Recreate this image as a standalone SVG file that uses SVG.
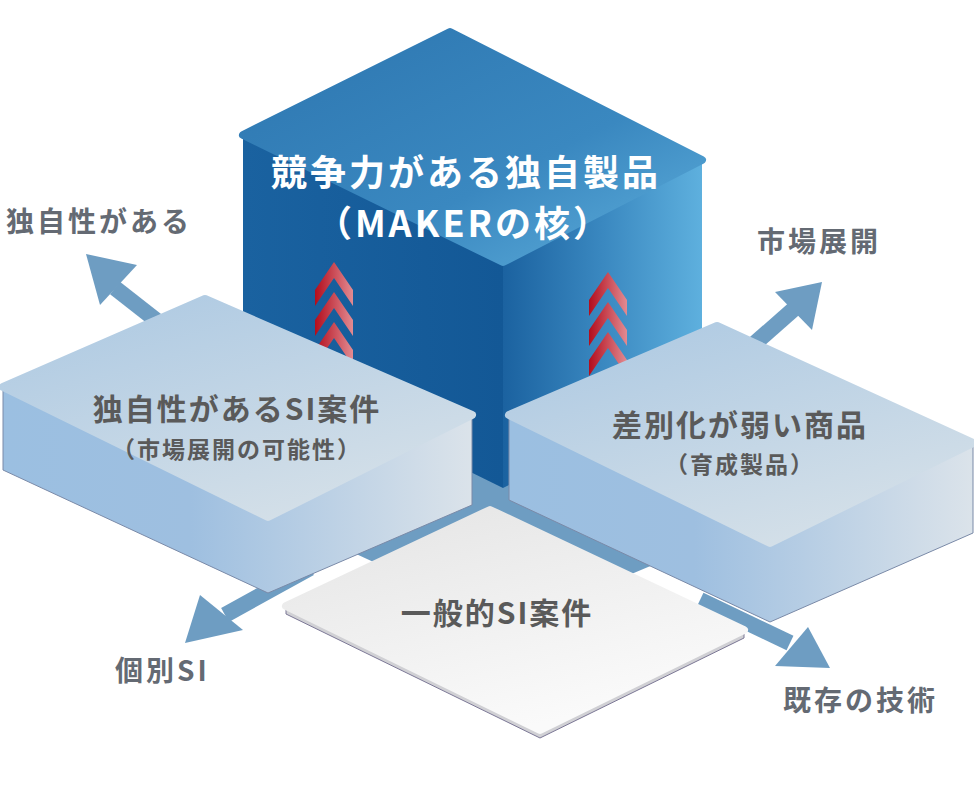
<svg xmlns="http://www.w3.org/2000/svg" width="974" height="786" viewBox="0 0 974 786">
<defs>
<linearGradient id="cTop" x1="0" y1="0" x2="1" y2="1"><stop offset="0" stop-color="#2d76b0"/><stop offset="0.6" stop-color="#3a88c0"/><stop offset="1" stop-color="#5eaedb"/></linearGradient>
<linearGradient id="cL" x1="0" y1="0" x2="1" y2="0"><stop offset="0" stop-color="#1a62a0"/><stop offset="1" stop-color="#135896"/></linearGradient>
<linearGradient id="cR" x1="0" y1="0" x2="1" y2="0"><stop offset="0" stop-color="#1b62a0"/><stop offset="0.5" stop-color="#3a88c0"/><stop offset="1" stop-color="#5eb0de"/></linearGradient>
<linearGradient id="sTop" x1="0" y1="0" x2="0.6" y2="1"><stop offset="0" stop-color="#abc8e2"/><stop offset="1" stop-color="#d3dfe8"/></linearGradient>
<linearGradient id="sSide" x1="0" y1="0" x2="1" y2="0"><stop offset="0" stop-color="#9bbfe1"/><stop offset="0.4" stop-color="#9ebfe0"/><stop offset="1" stop-color="#dbe3ea"/></linearGradient>
<linearGradient id="wTop" x1="0" y1="0" x2="0.5" y2="1"><stop offset="0" stop-color="#e4e4e4"/><stop offset="1" stop-color="#fafafa"/></linearGradient>
<linearGradient id="red" x1="0" y1="0" x2="1" y2="0"><stop offset="0" stop-color="#b30d1c"/><stop offset="1" stop-color="#e28b92"/></linearGradient>
<g id="chev"><polygon points="0,28 19,0 38,28 38,44 19,16 0,44"/></g>
</defs>
<style>
.arr{fill:#6e9dc2}
.ln{stroke:#6e9dc2;stroke-width:16;fill:none}
.lbl{font-family:"Noto Sans CJK JP","Liberation Sans",sans-serif;font-weight:700;fill:#646a73;font-size:28px;letter-spacing:3px}
.w{font-family:"Noto Sans CJK JP","Liberation Sans",sans-serif;font-weight:700;fill:#fff;font-size:36px;letter-spacing:3px;text-anchor:middle}
.t{font-family:"Noto Sans CJK JP","Liberation Sans",sans-serif;font-weight:700;fill:#5a5a5a;text-anchor:middle;letter-spacing:2px}
</style>
<g id="connectors">
<line class="ln" x1="175" y1="335" x2="115" y2="288"/><polygon class="arr" points="86,254 137,265 100,305"/>
<line class="ln" x1="745" y1="352" x2="795" y2="308"/><polygon class="arr" points="822,282 812,330 775,292"/>
<line class="ln" x1="310" y1="568" x2="225" y2="615"/><polygon class="arr" points="185,643 200,595 243,630"/>
<line class="ln" x1="700" y1="600" x2="790" y2="643"/><polygon class="arr" points="830,668 775,666 808,627"/>
</g>
<polygon fill="#6e9dc2" points="250,505 500,392 760,520 510,625"/>
<g id="cube">
<polygon fill="url(#cL)" points="243,135 503,262 503,488 243,360"/>
<polygon fill="url(#cR)" points="503,262 702,160 702,385 503,488"/>
<polygon fill="url(#cTop)" points="243,135 450,32 702,160 503,262" stroke="url(#cTop)" stroke-width="8" stroke-linejoin="round"/>
<text class="w" x="466" y="186">競争力がある独自製品</text>
<text class="w" x="464" y="237">（MAKERの核）</text>
</g>
<g id="chevrons" fill="url(#red)">
<use href="#chev" x="315" y="262"/><use href="#chev" x="315" y="292"/><use href="#chev" x="315" y="322"/>
<use href="#chev" x="589" y="272"/><use href="#chev" x="589" y="302"/><use href="#chev" x="589" y="332"/>
</g>
<g id="slab-left">
<polygon fill="url(#sSide)" points="3,387 268,517 472,415 472,505 268,593 3,470" stroke="#7a8aa8" stroke-width="1"/>
<polygon fill="url(#sTop)" points="3,387 205,299 472,415 268,517" stroke="url(#sTop)" stroke-width="8" stroke-linejoin="round"/>
<text class="t" x="237" y="420" font-size="30">独自性があるSI案件</text>
<text class="t" x="237" y="458" font-size="23">（市場展開の可能性）</text>
</g>
<g id="slab-right">
<polygon fill="url(#sSide)" points="509,415 770,543 973,443 973,533 770,622 509,500" stroke="#7a8aa8" stroke-width="1"/>
<polygon fill="url(#sTop)" points="509,415 717,326 973,443 770,543" stroke="url(#sTop)" stroke-width="8" stroke-linejoin="round"/>
<text class="t" x="740" y="436" font-size="30">差別化が弱い商品</text>
<text class="t" x="740" y="473" font-size="23">（育成製品）</text>
</g>
<g id="slab-bottom">
<polygon fill="#d0d0d4" points="286,606 540,730 744,630 744,638 540,738 286,614" stroke="#7c7896" stroke-width="1"/>
<polygon fill="url(#wTop)" points="286,606 490,510 744,630 540,730" stroke="url(#wTop)" stroke-width="8" stroke-linejoin="round"/>
<text class="t" x="497" y="624" font-size="30">一般的SI案件</text>
</g>
<g id="labels">
<text class="lbl" x="6" y="232">独自性がある</text>
<text class="lbl" x="757" y="252">市場展開</text>
<text class="lbl" x="115" y="681">個別SI</text>
<text class="lbl" x="783" y="711">既存の技術</text>
</g>
</svg>
